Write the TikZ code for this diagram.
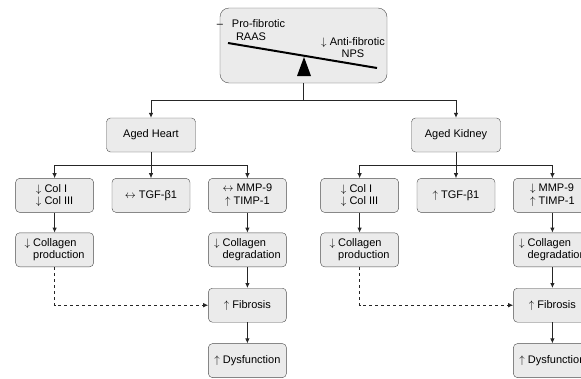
\documentclass[tikz,border=0pt]{standalone}
\usepackage{fontspec}
\setmainfont{Liberation Sans}
\usetikzlibrary{positioning,arrows.meta}

\begin{document}
\begin{tikzpicture}[
  x=1pt, y=-1pt,
  >={Latex[length=5pt,width=4.5pt]},
  font=\fontsize{11}{12.5}\selectfont,
  node distance=18pt,
  box/.style={draw=black!70,fill=black!8,rounded corners=4pt,minimum width=78pt,
    minimum height=34pt,inner sep=2pt},
  organ/.style={box,minimum width=89pt},
  balancebox/.style={box,rounded corners=9pt,minimum width=167pt,minimum height=75pt},
  link/.style={draw=black!85,line width=0.8pt},
  flow/.style={link,->},
  cross/.style={flow,dashed}
]
  \useasboundingbox (0,0) rectangle (581,378);

  % balance of the two systems
  \node[balancebox] (balance) at (303.5,45.5) {};
  \node[align=center] (pro) at (251,30) {–\hspace{9pt}Pro-fibrotic\\RAAS};
  \node[align=center] (anti) at (353,47.5) {$\downarrow$ Anti-fibrotic\\NPS};
  \draw[line width=2pt] (228,43) -- (377,68);
  \fill (304,57) -- (297,76) -- (311,76) -- cycle;

  \node[organ] (heart) at (151,135) {Aged Heart};
  \node[organ] (kidney) at (456,135) {Aged Kidney};

  % heart
  \node[box,below=26pt of heart] (htgf) {$\leftrightarrow$ TGF-β1};
  \node[box,align=left,left=of htgf] (hcol) {$\downarrow$ Col I\\$\downarrow$ Col III};
  \node[box,align=center,right=of htgf] (hmmp) {$\leftrightarrow$ MMP-9\\$\uparrow$ TIMP-1};
  \node[box,align=left,below=20pt of hcol] (hprod) {$\downarrow$ Collagen\\\hphantom{$\downarrow$ }production};
  \node[box,align=left,below=20pt of hmmp] (hdeg) {$\downarrow$ Collagen\\\hphantom{$\downarrow$ }degradation};
  \node[box,below=21pt of hdeg] (hfib) {$\uparrow$ Fibrosis};
  \node[box,below=21pt of hfib] (hdys) {$\uparrow$ Dysfunction};

  % kidney
  \node[box,below=26pt of kidney] (ktgf) {$\uparrow$ TGF-β1};
  \node[box,align=left,left=of ktgf] (kcol) {$\downarrow$ Col I\\$\downarrow$ Col III};
  \node[box,align=left,right=of ktgf] (kmmp) {$\downarrow$ MMP-9\\$\uparrow$ TIMP-1};
  \node[box,align=left,below=20pt of kcol] (kprod) {$\downarrow$ Collagen\\\hphantom{$\downarrow$ }production};
  \node[box,align=left,below=20pt of kmmp] (kdeg) {$\downarrow$ Collagen\\\hphantom{$\downarrow$ }degradation};
  \node[box,below=21pt of kdeg] (kfib) {$\uparrow$ Fibrosis};
  \node[box,below=21pt of kfib] (kdys) {$\uparrow$ Dysfunction};

  \coordinate (split) at ([yshift=-17pt]balance.south);
  \draw[link] (balance) -- (split);
  \draw[flow] (split) -| (heart);
  \draw[flow] (split) -| (kidney);

  \coordinate (hsplit) at ([yshift=-13pt]heart.south);
  \coordinate (ksplit) at ([yshift=-13pt]kidney.south);
  \draw[link] (heart) -- (hsplit);
  \draw[link] (kidney) -- (ksplit);
  \foreach \o in {h,k} {
    \draw[flow] (\o split) -| (\o col);
    \draw[flow] (\o split) -| (\o tgf);
    \draw[flow] (\o split) -| (\o mmp);
    \draw[flow] (\o col) -- (\o prod);
    \draw[flow] (\o mmp) -- (\o deg);
    \draw[flow] (\o deg) -- (\o fib);
    \draw[flow] (\o fib) -- (\o dys);
    \draw[cross] (\o prod) |- (\o fib);
  }
\end{tikzpicture}
\end{document}
